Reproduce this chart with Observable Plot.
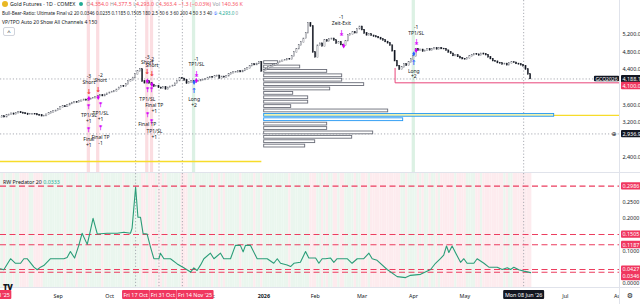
<!DOCTYPE html>
<html><head><meta charset="utf-8">
<script src="https://cdn.jsdelivr.net/npm/d3@7"></script>
<script src="https://cdn.jsdelivr.net/npm/@observablehq/plot@0.6"></script>
<style>
html,body{margin:0;padding:0;background:#fff;}
#wrap{position:relative;width:640px;height:304px;overflow:hidden;font-family:"Noto Sans",Roboto,"DejaVu Sans",sans-serif;color:#131722;}
#price,#ind{position:absolute;left:0;}
#price{top:0;} #ind{top:173px;}
.hl{position:absolute;left:2px;font-size:5.3px;line-height:7px;white-space:nowrap;}
.coin{display:inline-block;width:6px;height:6px;border-radius:50%;background:#e9b824;vertical-align:-1px;margin-right:2px;}
.gdot{display:inline-block;width:4px;height:4px;border-radius:50%;background:#22ab94;margin:0 3px 0 4px;vertical-align:0px;}
.r{color:#f7525f;}
.g{color:#22ab94;}
.mut{color:#9598a1;}
.btn{position:absolute;left:3px;top:27px;width:10px;height:7px;border:1px solid #d1d4dc;border-radius:2px;font-size:6px;line-height:8px;text-align:center;color:#131722;background:#fff;}
.sep{position:absolute;background:#e0e3eb;}
.rwl{position:absolute;left:3px;top:178px;font-size:5.3px;white-space:nowrap;}
.tv{position:absolute;left:3px;top:281px;font-size:8px;font-weight:900;letter-spacing:-0.6px;color:#131722;}
.corner{position:absolute;left:620px;top:288px;width:20px;height:16px;background:#fff;font-size:7px;line-height:16px;text-align:center;color:#131722;}
</style></head>
<body>
<div id="wrap">
  <div id="price"></div>
  <div id="ind"></div>
  <div class="sep" style="left:0;top:172px;width:640px;height:1px"></div>
  <div class="sep" style="left:0;top:287px;width:640px;height:1px"></div>
  <div class="sep" style="left:619px;top:0;width:1px;height:304px"></div>
  <div class="corner">⚙</div>
  <div class="hl" style="top:1px"><span class="coin"></span>Gold Futures · 1D · COMEX<span class="gdot"></span><span class="mut">O</span><span class="r">4,354.0</span> <span class="mut">H</span><span class="r">4,377.5</span> <span class="mut">L</span><span class="r">4,293.0</span> <span class="mut">C</span><span class="r">4,363.4</span> <span class="r">−1.3 (−0.03%)</span> <span class="mut">Vol</span> <span class="r">140.36 K</span></div>
  <div class="hl" style="top:10px;font-size:4.6px">Bull-Bear-Ratio: Ultimate Final v2 20 0.0346 0.0235 0.1185 0.1505 180 2.5 50 6 3 60 200 4 50 3 3 40 <span style="color:#2962ff">⑤</span> <span class="g">4,293.0</span> <span class="mut">0</span></div>
  <div class="hl" style="top:19px;font-size:5px">VP/TPO Auto 20 Show All Channels 4 150</div>
  <div class="btn">^</div>
  <div class="rwl">RW Predator 20 <span class="g">0.0333</span></div>
  <div class="tv">TV</div>
</div>
<script>
// ---------------- DATA ----------------
const firstBarDate = "2025-07-29";            // bars are trading weekdays from here
const closes = [
 3306,3330,3318,3352,3370,3395,3380,3410,3423,3415,
 3400,3392,3370,3378,3388,3384,3366,3355,3340,3345,
 3372,3398,3420,3445,3462,3490,3535,3560,3552,3590,
 3618,3640,3655,3648,3672,3690,3712,3700,3718,3735,
 3752,3770,3795,3810,3798,3825,3850,3872,3891,3905,
 3940,3985,4024,4010,4060,4126,4150,4210,4290,4360,
 4399,4126,4090,4130,4086,4050,4008,4020,3985,3970,
 3995,3950,3985,4008,4030,4080,4140,4204,4190,4150,
 4080,4110,4126,4105,4126,4140,4150,4165,4180,4210,
 4230,4220,4245,4258,4200,4235,4225,4250,4290,4320,
 4335,4340,4360,4345,4370,4400,4430,4480,4516,4505,
 4530,4570,4360,4380,4414,4450,4470,4500,4520,4555,
 4580,4600,4615,4640,4633,4700,4790,4867,4950,5020,
 5101,5230,5452,5380,4789,4680,4945,4990,4930,5062,
 5040,5090,5101,5060,4990,5023,4960,4945,5050,5179,
 5200,5250,5230,5320,5374,5300,5220,5179,5200,5170,
 5150,5140,5120,5090,5062,5030,5000,4945,4820,4594,
 4480,4399,4450,4516,4490,4560,4633,4700,4867,4830,
 4850,4810,4828,4860,4840,4867,4880,4860,4890,4870,
 4867,4830,4790,4760,4711,4720,4690,4660,4640,4633,
 4650,4700,4730,4750,4740,4720,4760,4750,4730,4680,
 4640,4594,4580,4550,4540,4516,4530,4500,4540,4560,
 4555,4530,4520,4500,4477,4400,4290,4188.1
];
const priceTicks = [2400, 3200, 3600, 4400, 4800, 5200];
const timeTickDates  = ["2025-09-01","2025-10-01","2025-12-01","2026-01-01","2026-02-02","2026-03-02","2026-04-01","2026-05-01","2026-07-01","2026-08-03"];
const timeTickLabels = ["Sep","Oct","Dec","2026","Feb","Mar","Apr","May","Jul","Aug"];
const markerDates  = ["2025-10-17","2025-10-31","2025-11-14"];
const markerLabels = ["Fri 17 Oct","Fri 31 Oct","Fri 14 Nov '25"];
const edgeDate = "2025-07-24", edgeLabel = "Thu 24 Jul '25";
const crossDate = "2026-06-08", crossDateLabel = "Mon 08 Jun '26";
const crossPrice = 2936.9;
const symbolCode = "GCQ2026";
const stopLevel = 4100, stopFrom = 4430, stopDate = "2026-03-23";

// volume profile (anchored at first bar of 2026)
const vpAnchorDate = "2026-01-02";
const vpCenters = [4560,4460,4360,4260,4160,4060,3960,3860,3760,3660,3560,3460,3360,3260,3160,3060,2960,2860,2760,2660];
const vpVolumes = [14,36,63,78,78,100,66,29,44,44,27,124,290,139,63,63,109,88,51,41];
const pocPrice = 3360, vahPrice = 3260;
const prevPocPrice = 2310, prevPocEndDate = "2026-01-01";

// signal bands
const bandDates = ["2025-09-19","2025-09-25","2025-10-24","2025-10-28","2025-11-21","2026-04-02"];
const bandSides = ["bear","bear","bear","bear","bull","bull"];

// signal annotations
const annDate = [
 "2025-09-19","2025-09-19","2025-09-19","2025-09-19","2025-09-19","2025-09-19","2025-09-19",
 "2025-09-26","2025-09-25","2025-09-25","2025-09-26","2025-09-26","2025-09-26","2025-09-26",
 "2025-10-24","2025-10-24","2025-10-24","2025-10-24","2025-10-24","2025-10-24","2025-10-24",
 "2025-10-28","2025-10-28","2025-10-28","2025-10-28","2025-10-29","2025-10-28","2025-10-29",
 "2025-11-24","2025-11-24","2025-11-24","2025-11-21","2025-11-21","2025-11-21",
 "2026-02-18","2026-02-18","2026-02-19",
 "2026-04-03","2026-04-03","2026-04-03","2026-04-02","2026-04-02","2026-04-02"];
const annPrice = [
 4192,3903,3743,3566,3300,3042,2753,
 4215,3941,3768,3607,3338,3081,2799,
 4629,4347,4137,3941,3721,3379,3152,
 4563,4317,4062,3948,3527,3209,2936,
 4581,4308,4153,4112,3917,3659,
 5528,5230,4941,
 5300,5034,4840,4761,4565,4308];
const annKind = [
 "label","short","dotM","tp","label","tp","label",
 "label","short","dotM","tp","label","tp","label",
 "label","short","dotM","tp","label","tp","label",
 "label","short","dotM","tp","label","tp","label",
 "label","exit","dotM","dotB","long","label",
 "label","exit","dotM",
 "label","exit","dotM","dotB","long","label"];
const annText = [
 "-3\nShort","","","","TP1/SL\n+1","","Final\n+1",
 "-2\nShort","","","","TP1/SL\n+1","","Final TP\n-1",
 "-3\nShort","","","","TP1/SL","","Final TP",
 "-2\nShort","","","","Final TP\n+1","","TP1/SL\n+1",
 "-1\nTP1/SL","","","","","Long\n+2",
 "-1\nZeit-Exit","","",
 "-1\nTP1/SL","","","","","Long\n+2"];

// RW Predator indicator (bar index, value)
const rwBar = [0.2,1.6,4.5,6.6,8.8,10.2,11.6,14.5,15.9,17.3,18.7,21.6,27.3,28.7,30.1,31.9,33.7,35.1,37.3,38.4,39.8,41.6,45.8,50.1,53,55.8,56.5,58,59,60.1,61.2,62.9,64.4,65.8,68,68.6,70.1,72.9,75.8,78.6,81.5,82.9,84.3,85.8,87.2,90,91.5,94.3,95.7,98.6,100.7,102.8,104,105,107.1,110,114.3,117.1,118.6,120,122.8,124.3,125.7,128.5,130.7,132.1,135,136.4,137.8,139.2,141.4,142.8,144.2,148.5,150.6,152.8,155.6,157.8,159.2,161.3,165.6,169.9,173.5,175.6,179.9,184.2,186.3,188.4,189.8,191,192,193.4,194.8,197,198.4,199.8,202.7,204.1,207,209.1,212.7,214.8,217,218.4,219.8,221.9,224.1,227];
const rwValue = [0.045,0.042,0.076,0.062,0.062,0.076,0.076,0.050,0.042,0.050,0.055,0.076,0.076,0.080,0.098,0.078,0.117,0.154,0.120,0.154,0.200,0.152,0.154,0.154,0.157,0.154,0.170,0.295,0.203,0.203,0.153,0.152,0.111,0.076,0.076,0.093,0.076,0.076,0.060,0.048,0.035,0.048,0.040,0.057,0.076,0.093,0.076,0.093,0.076,0.076,0.117,0.117,0.097,0.117,0.117,0.076,0.076,0.062,0.076,0.062,0.057,0.052,0.062,0.065,0.098,0.078,0.078,0.062,0.076,0.076,0.078,0.065,0.076,0.076,0.062,0.076,0.076,0.093,0.076,0.071,0.043,0.021,0.018,0.025,0.028,0.043,0.062,0.076,0.087,0.115,0.095,0.115,0.095,0.065,0.076,0.062,0.062,0.076,0.062,0.050,0.050,0.043,0.048,0.043,0.050,0.042,0.038,0.0333];
const rwTicks = [0, 0.1, 0.2, 0.25];
const levelValues = [0.2986, 0.1505, 0.1187, 0.0427, 0.0346];

// ---------------- HELPERS ----------------
const T0 = Date.UTC(2025, 6, 29);
function barIndex(s) {
  const [y, m, d] = s.split("-").map(Number);
  const target = Date.UTC(y, m - 1, d);
  let n = 0, t = T0; const step = target >= T0 ? 1 : -1;
  while (t !== target) { t += step * 86400000; const wd = new Date(t).getUTCDay(); if (wd !== 0 && wd !== 6) n += step; }
  return n;
}
const XDOM = [0.2, 265];
const FONT = '"Noto Sans",Roboto,"DejaVu Sans",sans-serif';
const fmtPrice = d3.format(",.1f");
const BEAR = "#f23645", BULL = "#2962ff", MAG = "#d500f9";

const bars = closes.map((c, i) => ({bar: i, open: i === 0 ? c : closes[i - 1], close: c}));
const lastBar = closes.length - 1;
const vpStart = barIndex(vpAnchorDate);
const vpRows = vpCenters.map((c, i) => ({lo: c - 50, hi: c + 50, vol: vpVolumes[i], c}));
const bands = bandDates.map((d, i) => ({bar: barIndex(d), side: bandSides[i]}));
const anns = annDate.map((d, i) => ({bar: barIndex(d), price: annPrice[i], kind: annKind[i], text: annText[i]}));
const markerBars = markerDates.map(barIndex);
const crossBar = barIndex(crossDate);
const rw = rwBar.map((b, i) => ({bar: b, value: rwValue[i]}));
const tickBars = timeTickDates.map(barIndex);
const tickLabel = new Map(tickBars.map((b, i) => [b, timeTickLabels[i]]));

const glyph = {short: "↓", long: "↑", tp: "⤒", exit: "⤓"};
const glyphColor = {short: BEAR, long: BULL, tp: MAG, exit: MAG};

const dotted = {stroke: "#9598a1", strokeDasharray: "1.2,2", strokeWidth: 0.8};

// ---------------- PRICE PANEL ----------------
const price = Plot.plot({
  width: 640, height: 173, marginTop: 0, marginBottom: 0, marginLeft: 0, marginRight: 21,
  style: {fontFamily: FONT, fontSize: "5.4px", color: "#131722", background: "transparent", overflow: "visible"},
  x: {type: "linear", domain: XDOM, axis: null},
  y: {type: "linear", domain: [2036, 5974], axis: null},
  marks: [
    Plot.rect(bands, {x1: d => d.bar - 0.7, x2: d => d.bar + 0.7, fill: d => d.side === "bear" ? "#fbdde1" : "#dcf1e4"}),
    Plot.ruleX([...markerBars, crossBar], dotted),
    Plot.ruleY([closes[lastBar], crossPrice], dotted),
    Plot.ruleY([prevPocPrice], {x1: 0, x2: barIndex(prevPocEndDate), stroke: "#f7dc2a", strokeWidth: 1.4}),
    Plot.ruleY([pocPrice], {x1: vpStart, x2: XDOM[1], stroke: "#f7dc2a", strokeWidth: 1.4}),
    Plot.rect(vpRows, {
      x1: vpStart, x2: d => vpStart + d.vol / 2.3376, y1: "lo", y2: "hi", insetTop: 0.8, insetBottom: 0.8,
      fill: d => d.c === pocPrice ? "#eef3b0" : "#fff",
      stroke: d => (d.c === pocPrice || d.c === vahPrice) ? "#2196f3" : "#6a6d78", strokeWidth: 0.9
    }),
    Plot.rect(bars, {
      x1: d => d.bar - 0.25, x2: d => d.bar + 0.25, y1: "open", y2: "close", insetTop: -0.4, insetBottom: -0.4,
      fill: d => d.close >= d.open ? "#fff" : "#131722", stroke: d => d.close >= d.open ? "#5d606b" : "#131722", strokeWidth: 0.4
    }),
    Plot.line([{bar: barIndex(stopDate), p: stopFrom}, {bar: barIndex(stopDate), p: stopLevel}, {bar: XDOM[1], p: stopLevel}],
      {x: "bar", y: "p", stroke: "#e8457a", strokeWidth: 1}),
    Plot.text(anns.filter(d => d.kind === "label"), {x: "bar", y: "price", text: "text", fontSize: 5, lineHeight: 1.15, fill: "#131722"}),
    Plot.text(anns.filter(d => glyph[d.kind]), {x: "bar", y: "price", text: d => glyph[d.kind], fill: d => glyphColor[d.kind], fontSize: 7, fontWeight: "bold"}),
    Plot.dot(anns.filter(d => d.kind === "dotM" || d.kind === "dotB"), {x: "bar", y: "price", symbol: "diamond", r: 1.6, fill: d => d.kind === "dotM" ? MAG : BULL}),
    Plot.axisY(priceTicks, {anchor: "right", tickSize: 0, tickPadding: 3, tickFormat: fmtPrice, fontSize: 5.4, fill: "#131722", label: null}),
    Plot.text([closes[lastBar], crossPrice], {y: d => d, text: d => fmtPrice(d), frameAnchor: "right", dx: 3, textAnchor: "start", fill: "#fff", fontSize: 5.4, ariaDescription: "tag-black"}),
    Plot.text([stopLevel], {y: d => d, text: d => fmtPrice(d), frameAnchor: "right", dx: 3, dy: 3, textAnchor: "start", fill: "#fff", fontSize: 5.4, ariaDescription: "tag-red"}),
    Plot.text([closes[lastBar]], {y: d => d, text: () => symbolCode, frameAnchor: "right", dx: -2, textAnchor: "end", fill: "#fff", fontSize: 5, ariaDescription: "tag-black"}),
    Plot.text([crossPrice], {y: d => d, text: () => "⊕", frameAnchor: "right", dx: -3, textAnchor: "end", fill: "#131722", fontSize: 6})
  ]
});
document.getElementById("price").appendChild(price);

// ---------------- INDICATOR PANEL ----------------
const ind = Plot.plot({
  width: 640, height: 131, marginTop: 0, marginBottom: 17, marginLeft: 0, marginRight: 21,
  style: {fontFamily: FONT, fontSize: "5.4px", color: "#131722", background: "transparent", overflow: "visible"},
  x: {type: "linear", domain: XDOM, axis: null},
  y: {type: "linear", domain: [-0.0123, 0.3374], axis: null},
  marks: [
    // per-bar background: bull / bear bar
    Plot.rect(bars, {x1: d => d.bar - 0.5, x2: d => d.bar + 0.5, fill: d => d.close >= d.open ? "#eaf6ee" : "#fdebee"}),
    Plot.ruleX([...markerBars, crossBar], dotted),
    Plot.ruleY(levelValues, {stroke: "#ec3d5f", strokeDasharray: "6,3.5", strokeWidth: 1.1}),
    Plot.line(rw, {x: "bar", y: "value", stroke: "#2a9d78", strokeWidth: 1.1}),
    Plot.axisY(rwTicks, {anchor: "right", tickSize: 0, tickPadding: 3, tickFormat: ".4f", fontSize: 5.4, fill: "#131722", label: null}),
    Plot.axisX(tickBars, {anchor: "bottom", tickSize: 0, tickPadding: 7, dx: 2, tickFormat: d => tickLabel.get(d), fontSize: 5.4, fill: "#131722", label: null}),
    Plot.text(levelValues.slice(0, 4), {y: d => d, text: d => d.toFixed(4), frameAnchor: "right", dx: 3, textAnchor: "start", fill: "#fff", fontSize: 5.4, ariaDescription: "tag-red"}),
    Plot.text(levelValues.slice(4), {y: d => d, text: d => d.toFixed(4), frameAnchor: "right", dx: 3, dy: 4.5, textAnchor: "start", fill: "#fff", fontSize: 5.4, ariaDescription: "tag-red"}),
    Plot.text([barIndex(edgeDate), ...markerBars], {x: d => d, text: (d, i) => [edgeLabel, ...markerLabels][i], frameAnchor: "bottom", dy: 9, fill: "#fff", fontSize: 5.4, ariaDescription: "tag-red-x"}),
    Plot.text([crossBar], {x: d => d, text: () => crossDateLabel, frameAnchor: "bottom", dy: 9, fill: "#fff", fontSize: 5.4, ariaDescription: "tag-black-x"})
  ]
});
document.getElementById("ind").appendChild(ind);

// year tick in bold, as on the reference time axis
ind.querySelectorAll("text").forEach(t => { if (t.textContent === "2026") t.setAttribute("font-weight", "bold"); });

// ---------------- label boxes ----------------
function boxify(svg, label, color, padX, padY, pushApart) {
  const groups = svg.querySelectorAll(`g[aria-description="${label}"]`);
  groups.forEach(g => {
    let lastRight = -Infinity;
    const texts = Array.from(g.querySelectorAll("text"));
    const items = texts.map(t => {
      const b = t.getBBox();
      const tl = t.transform && t.transform.baseVal.numberOfItems ? t.transform.baseVal.consolidate().matrix : {e: 0, f: 0};
      return {t, b, ax: b.x + tl.e};
    }).sort((a, b) => a.ax - b.ax);
    items.forEach(({t, b, ax}) => {
      let shift = 0;
      if (pushApart && ax - padX < lastRight) shift = lastRight - (ax - padX);
      const wrap = document.createElementNS("http://www.w3.org/2000/svg", "g");
      if (shift) wrap.setAttribute("transform", `translate(${shift},0)`);
      const r = document.createElementNS("http://www.w3.org/2000/svg", "rect");
      r.setAttribute("x", b.x - padX); r.setAttribute("y", b.y - padY);
      r.setAttribute("width", b.width + 2 * padX); r.setAttribute("height", b.height + 2 * padY);
      r.setAttribute("rx", 1); r.setAttribute("fill", color);
      if (t.getAttribute("transform")) r.setAttribute("transform", t.getAttribute("transform"));
      t.parentNode.insertBefore(wrap, t);
      wrap.appendChild(r); wrap.appendChild(t);
      lastRight = ax + b.width + padX + shift;
    });
  });
}
boxify(price, "tag-black", "#131722", 1.5, -0.3, false);
boxify(price, "tag-red", "#f0375f", 1.5, -0.3, false);
boxify(ind, "tag-red", "#f0375f", 1.5, -0.3, false);
boxify(ind, "tag-red-x", "#f0375f", 1.5, 0.6, true);
boxify(ind, "tag-black-x", "#131722", 1.8, 0.6, false);
</script>
</body></html>
